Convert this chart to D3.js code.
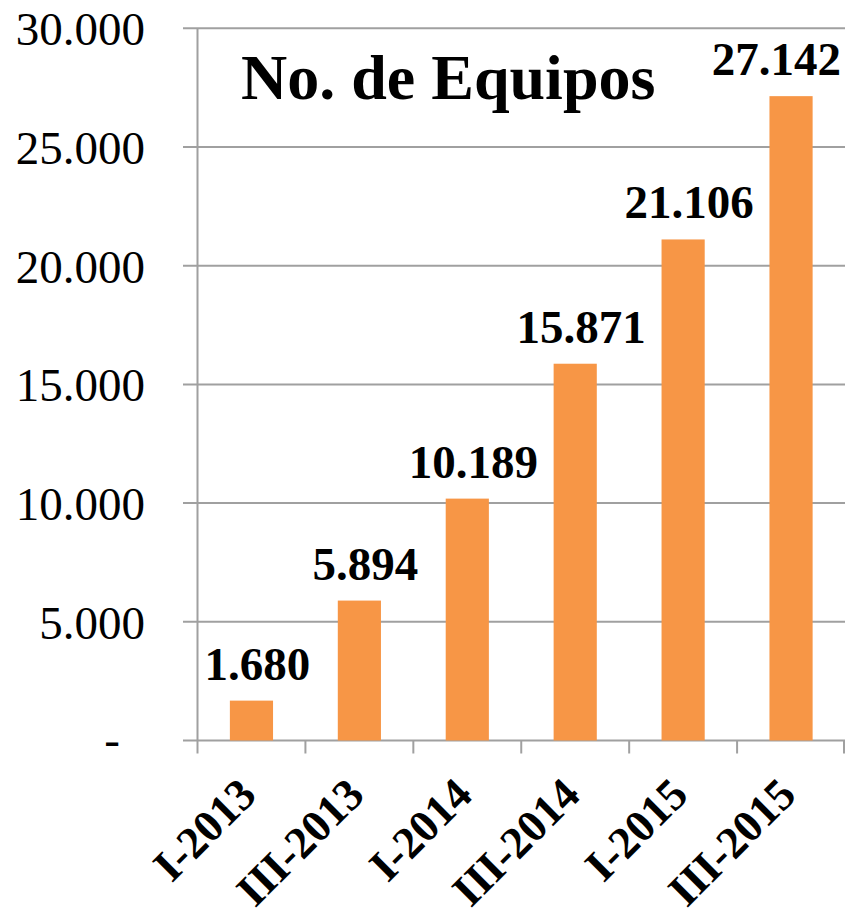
<!DOCTYPE html>
<html>
<head>
<meta charset="utf-8">
<script src="https://cdn.jsdelivr.net/npm/d3@7/dist/d3.min.js"></script>
<style>
  html, body { margin: 0; padding: 0; background: #fff; }
  svg { display: block; font-family: "Liberation Serif", "Times New Roman", serif; }
</style>
</head>
<body>
<svg id="chart" width="846" height="919"></svg>
<script>
const categories = ["I-2013", "III-2013", "I-2014", "III-2014", "I-2015", "III-2015"];
const values = [1680, 5894, 10189, 15871, 21106, 27142];
const yTicks = [0, 5000, 10000, 15000, 20000, 25000, 30000];
const title = "No. de Equipos";

const fmt = v => v === 0 ? "-" : d3.format(",")(v).replace(/,/g, ".");

const svg = d3.select("#chart");
const x = d3.scaleBand().domain(categories).range([197.5, 845]).padding(0);
const y = d3.scaleLinear().domain([0, 30000]).range([740.5, 28.3]);
const barW = x.bandwidth() * 0.4;
const gridColor = "#a0a0a0";

// gridlines + left tick marks
svg.append("g").selectAll("line").data(yTicks).join("line")
  .attr("x1", 183).attr("x2", 845)
  .attr("y1", d => y(d)).attr("y2", d => y(d))
  .attr("stroke", gridColor).attr("stroke-width", 2);

// y axis line
svg.append("line")
  .attr("x1", 197.5).attr("x2", 197.5)
  .attr("y1", y(30000)).attr("y2", y(0))
  .attr("stroke", gridColor).attr("stroke-width", 2);

// x tick marks at band boundaries
const bounds = categories.map(c => x(c)).concat([x(categories[categories.length - 1]) + x.bandwidth()]);
svg.append("g").selectAll("line").data(bounds).join("line")
  .attr("x1", d => Math.min(d, 844)).attr("x2", d => Math.min(d, 844))
  .attr("y1", y(0)).attr("y2", y(0) + 13)
  .attr("stroke", gridColor).attr("stroke-width", 2);

// y tick labels
svg.append("g").selectAll("text").data(yTicks).join("text")
  .attr("x", d => d === 0 ? 112 : 145)
  .attr("y", d => y(d))
  .attr("dy", d => d === 0 ? "0.3em" : "0.36em")
  .attr("text-anchor", d => d === 0 ? "middle" : "end")
  .attr("font-size", 47)
  .attr("fill", "#000")
  .text(fmt);

// bars
svg.append("g").selectAll("rect").data(values).join("rect")
  .attr("x", (d, i) => x(categories[i]) + (x.bandwidth() - barW) / 2)
  .attr("width", barW)
  .attr("y", d => y(d))
  .attr("height", d => y(0) - y(d))
  .attr("fill", "#F79646");

// data labels
const labels = svg.append("g").selectAll("text").data(values).join("text")
  .attr("x", (d, i) => x(categories[i]) + x.bandwidth() / 2 + 6)
  .attr("y", d => y(d) - 21)
  .attr("text-anchor", "middle")
  .attr("font-size", 47)
  .attr("font-weight", "bold")
  .attr("fill", "#000")
  .text(fmt);
labels.each(function () {
  const w = this.getComputedTextLength();
  const cx = +this.getAttribute("x");
  if (cx + w / 2 > 841) this.setAttribute("x", 841 - w / 2);
});

// x labels
svg.append("g").selectAll("text").data(categories).join("text")
  .attr("transform", d => `translate(${x(d) + x.bandwidth() / 2 + 7},797) rotate(-45)`)
  .attr("text-anchor", "end")
  .attr("font-size", 45)
  .attr("font-weight", "bold")
  .attr("fill", "#000")
  .text(d => d);

// title
svg.append("text")
  .attr("x", 241).attr("y", 99)
  .attr("font-size", 64)
  .attr("font-weight", "bold")
  .attr("fill", "#000")
  .text(title);
</script>
</body>
</html>
